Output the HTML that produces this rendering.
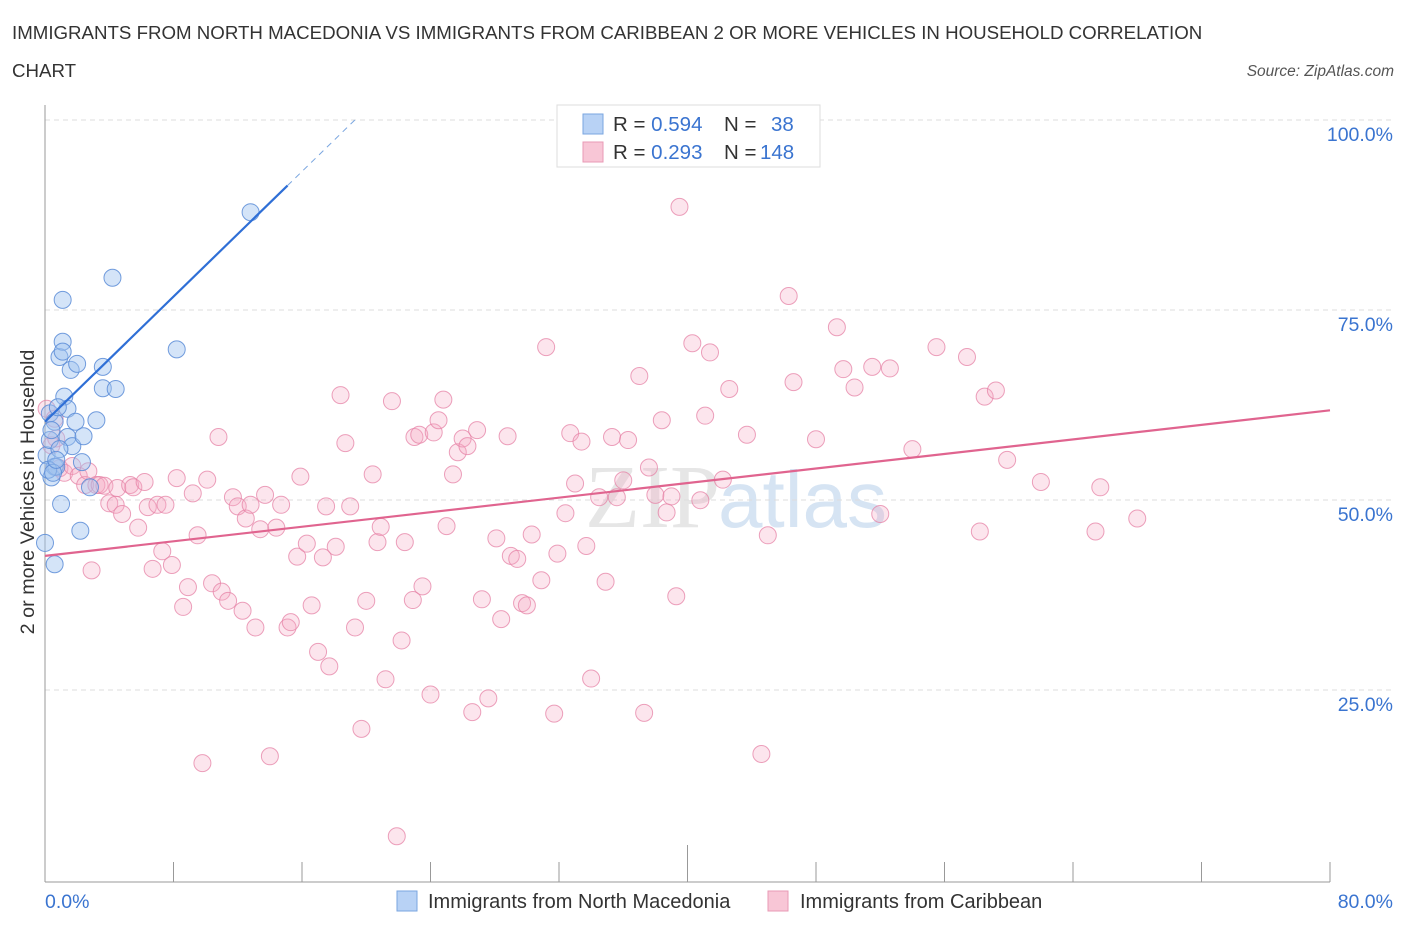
<!DOCTYPE html>
<html><head><meta charset="utf-8"><style>
body{margin:0;background:#fff;font-family:"Liberation Sans",sans-serif;}
svg{display:block}
</style></head><body>
<svg width="1406" height="930">
<text x="12" y="39" font-size="18.7" fill="#333">IMMIGRANTS FROM NORTH MACEDONIA VS IMMIGRANTS FROM CARIBBEAN 2 OR MORE VEHICLES IN HOUSEHOLD CORRELATION</text>
<text x="12" y="77" font-size="18.7" fill="#333">CHART</text>
<text x="1394" y="76" font-size="15.5" fill="#555" font-style="italic" text-anchor="end">Source: ZipAtlas.com</text>
<text x="720" y="527" font-size="90" fill="#e6e6e6" text-anchor="end" font-family="Liberation Serif,serif">ZIP</text>
<text x="718" y="527" font-size="80" fill="#d6e4f3">atlas</text>
<g id="grid"></g>
<g id="axes"></g>
<g id="pts"></g>
<g id="trends"></g>
<text transform="translate(34,492) rotate(-90)" font-size="19.8" fill="#333" text-anchor="middle">2 or more Vehicles in Household</text>
<text x="45" y="908" font-size="19.5" fill="#3a74d0">0.0%</text>
<text x="1393" y="908" font-size="19.5" fill="#3a74d0" text-anchor="end">80.0%</text>
<g>
<rect x="557" y="105" width="263" height="62" fill="#fff" stroke="#ddd"/>
<rect x="583" y="114" width="20" height="20" fill="#b8d2f5" stroke="#7aa6e0"/>
<rect x="583" y="142" width="20" height="20" fill="#f8c6d6" stroke="#e89ab5"/>
<text x="613" y="131" font-size="20.5" fill="#333">R = <tspan fill="#3a74d0">0.594</tspan><tspan x="724">N = </tspan><tspan x="771" fill="#3a74d0">38</tspan></text>
<text x="613" y="159" font-size="20.5" fill="#333">R = <tspan fill="#3a74d0">0.293</tspan><tspan x="724">N = </tspan><tspan x="760" fill="#3a74d0">148</tspan></text>
</g>
<g>
<rect x="397" y="891" width="20" height="20" fill="#b8d2f5" stroke="#7aa6e0"/>
<text x="428" y="908" font-size="20" fill="#333">Immigrants from North Macedonia</text>
<rect x="768" y="891" width="20" height="20" fill="#f8c6d6" stroke="#e89ab5"/>
<text x="800" y="908" font-size="20" fill="#333">Immigrants from Caribbean</text>
</g>
</svg>
<script>
const yTicks=[25,50,75,100];
const yTickLabels=["25.0%","50.0%","75.0%","100.0%"];
const xTicks=[0,8,16,24,32,40,48,56,64,72,80];
const blueX=[0,0.6,0.4,0.1,0.3,0.6,0.7,1.1,0.9,1.1,1.1,1.2,1.4,1.6,1.4,1.7,1.9,2.0,2.2,2.3,2.4,2.8,3.2,3.6,3.6,4.2,4.4,8.2,12.8,1.0,0.3,0.6,0.8,0.4,0.9,0.2,0.5,0.7];
const blueY=[44.5,41.7,53.1,56.0,58.0,54.5,54.5,76.4,68.9,70.9,69.6,63.7,62.1,67.2,58.4,57.2,60.4,68.0,46.1,55.1,58.5,51.8,60.6,64.8,67.6,79.3,64.7,69.9,87.9,49.6,61.5,60.4,62.3,59.3,56.8,54.1,53.7,55.4];
const pinkX=[0.1,0.4,0.6,0.7,0.9,1.2,1.7,2.1,2.5,2.7,2.9,3.2,3.4,3.7,4.0,4.4,4.5,4.8,5.3,5.5,5.8,6.2,6.4,6.7,7.0,7.3,7.5,7.9,8.2,8.6,8.9,9.2,9.5,9.8,10.1,10.4,10.8,11.0,11.4,11.7,12.0,12.3,12.5,12.8,13.1,13.4,13.7,14.0,14.4,14.7,15.1,15.3,15.7,15.9,16.3,16.6,17.0,17.3,17.5,17.7,18.1,18.4,18.7,19.0,19.3,19.7,20.0,20.4,20.7,20.9,21.2,21.6,21.9,22.2,22.4,22.9,23.0,23.3,23.5,24.0,24.2,24.5,24.8,25.0,25.4,25.7,26.0,26.3,26.6,26.9,27.2,27.6,28.1,28.4,28.8,29.0,29.4,29.7,30.0,30.3,30.9,31.2,31.7,31.9,32.4,32.7,33.0,33.4,33.7,34.0,34.5,34.9,35.3,35.6,36.0,36.3,37.0,37.3,37.6,38.0,38.4,38.7,39.0,39.3,39.5,40.3,40.8,41.1,41.4,42.2,42.6,43.7,44.6,45.0,46.3,46.6,48.0,49.3,49.7,50.4,51.5,52.0,52.6,54.0,55.5,57.4,58.2,58.5,59.9,59.2,62.0,65.4,65.7,68.0];
const pinkY=[62.1,57.3,60.8,58.2,54.3,53.7,54.6,53.3,52.1,53.9,40.9,52.1,52.1,52.0,49.7,49.5,51.7,48.3,52.1,51.8,46.5,52.5,49.2,41.1,49.5,43.4,49.5,41.6,53.0,36.1,38.7,51.0,45.5,15.6,52.8,39.2,58.4,38.1,36.9,50.5,49.3,35.6,47.7,49.5,33.4,46.3,50.8,16.5,46.5,49.5,33.4,34.1,42.7,53.2,44.4,36.3,30.2,42.6,49.3,28.3,44.0,63.9,57.6,49.3,33.4,20.1,36.9,53.5,44.6,46.6,26.6,63.1,6.0,31.7,44.6,37.0,58.4,58.7,38.8,24.6,59.0,60.6,63.3,46.7,53.5,56.4,58.2,57.2,22.3,59.3,37.1,24.1,45.1,34.5,58.5,42.8,42.4,36.6,36.3,45.6,39.6,70.2,22.1,43.1,48.4,58.9,52.3,57.8,44.1,26.7,50.5,39.4,58.4,50.5,52.7,58.0,66.4,22.2,54.4,50.8,60.6,48.5,50.6,37.5,88.6,70.7,50.1,61.2,69.5,52.8,64.7,58.7,16.8,45.5,76.9,65.6,58.1,72.8,67.3,64.9,67.6,48.3,67.4,56.8,70.2,68.9,46.0,63.7,55.4,64.5,52.5,46.0,51.8,47.7];
const blueLine=[[0,60.4],[15.1,91.4]];
const pinkLine=[[0,42.8],[80,61.9]];
const L=45,R=1330,B=882,PX=(R-L)/80,PY=7.62;
const sx=v=>L+v*PX, sy=v=>B-v*PY;
const gy=v=>880-v*7.6;
const ns="http://www.w3.org/2000/svg";
function mk(t,a,p){const e=document.createElementNS(ns,t);for(const k in a)e.setAttribute(k,a[k]);p.appendChild(e);return e;}
const grid=document.getElementById('grid'),axes=document.getElementById('axes'),pts=document.getElementById('pts'),tr=document.getElementById('trends');
yTicks.forEach((v,i)=>{
 const g=mk('line',{x1:L,x2:R+65,y1:gy(v),y2:gy(v),stroke:'#ddd','stroke-dasharray':'5,4'},grid);
 
 
 const t=mk('text',{x:1393,y:gy(v)+21,'font-size':19.5,fill:'#3a74d0','text-anchor':'end'},axes);
 t.textContent=yTickLabels[i];
 
 
});
mk('line',{x1:L,x2:L,y1:105,y2:B,stroke:'#999'},axes);
mk('line',{x1:L,x2:R,y1:B,y2:B,stroke:'#999'},axes);
xTicks.forEach(v=>{
 const t=mk('line',{x1:sx(v),x2:sx(v),y1:v==40?845:862,y2:B,stroke:'#999'},axes);
 
 
});
pinkX.forEach((x,i)=>{
 if(pinkY[i]===undefined)return;
 const c=mk('circle',{cx:sx(x),cy:sy(pinkY[i]),r:8.5,fill:'rgba(244,168,195,0.3)',stroke:'rgba(230,130,165,0.75)','stroke-width':1},pts);
 
 
});
blueX.forEach((x,i)=>{
 const c=mk('circle',{cx:sx(x),cy:sy(blueY[i]),r:8.5,fill:'rgba(160,196,240,0.45)',stroke:'rgba(90,140,215,0.85)','stroke-width':1},pts);
 
 
});
let b=mk('line',{x1:sx(blueLine[0][0]),y1:sy(blueLine[0][1]),x2:sx(blueLine[1][0]),y2:sy(blueLine[1][1]),stroke:'#2f6fd6','stroke-width':2.2},tr);


const sl=(blueLine[1][1]-blueLine[0][1])/(blueLine[1][0]-blueLine[0][0]);
const ex=blueLine[1][0]+(100-blueLine[1][1])/sl;
b=mk('line',{x1:sx(blueLine[1][0]),y1:sy(blueLine[1][1]),x2:sx(ex),y2:sy(100),stroke:'#7aa6e0','stroke-width':1,'stroke-dasharray':'6,5'},tr);


const p=mk('line',{x1:sx(pinkLine[0][0]),y1:sy(pinkLine[0][1]),x2:sx(pinkLine[1][0]),y2:sy(pinkLine[1][1]),stroke:'#e0648f','stroke-width':2.2},tr);


</script>
</body></html>
